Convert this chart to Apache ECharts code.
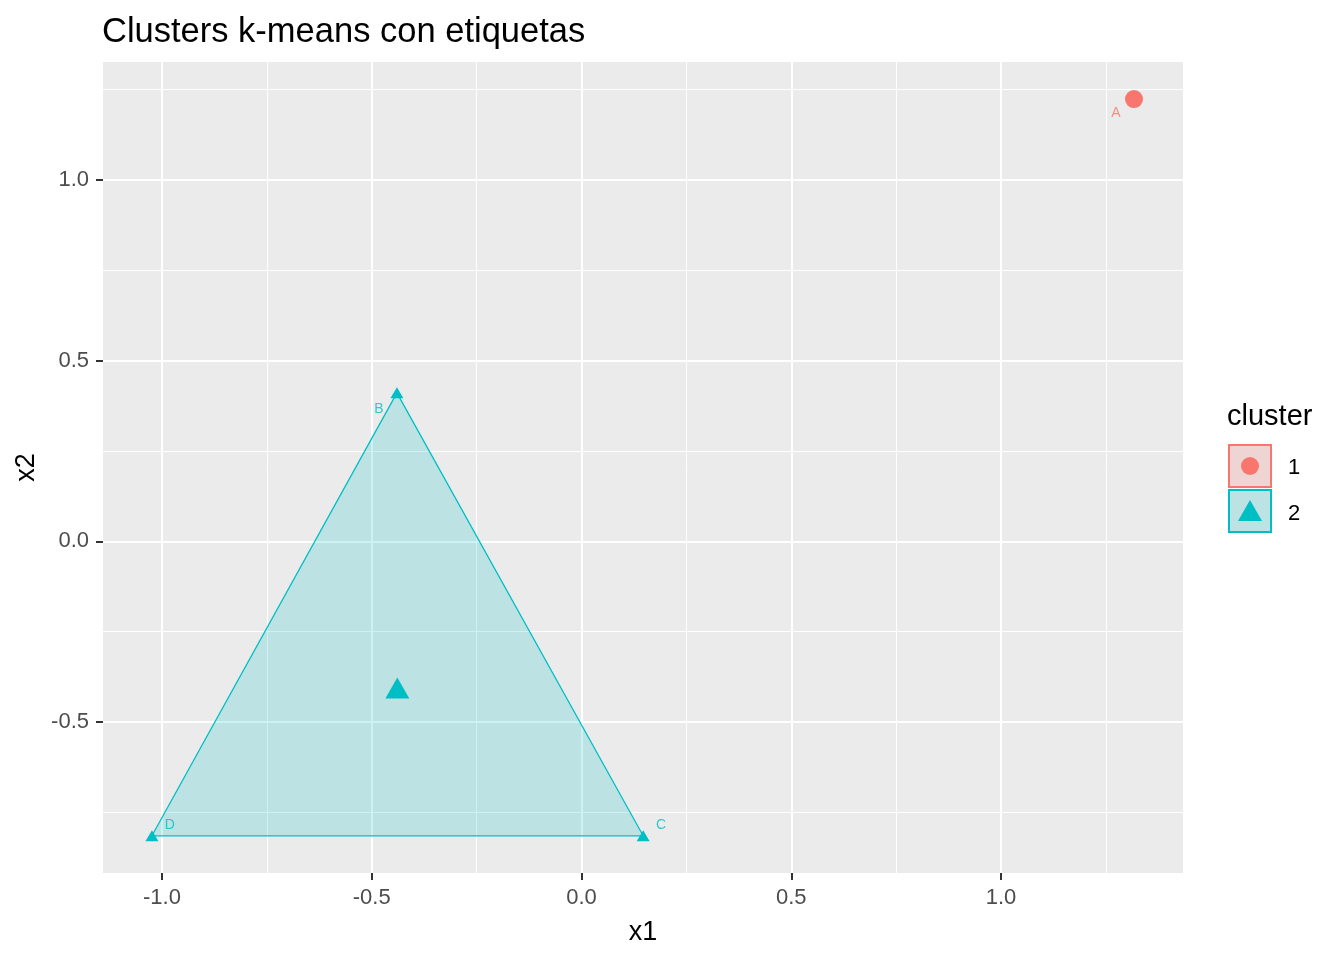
<!DOCTYPE html>
<html>
<head>
<meta charset="utf-8">
<script src="https://cdn.jsdelivr.net/npm/echarts@6/dist/echarts.min.js"></script>
<style>html,body{margin:0;padding:0;background:#fff}#c{width:1344px;height:960px}</style>
</head>
<body>
<div id="c"></div>
<script>
// ---- data ----
const pointNames = ['A', 'B', 'C', 'D'];
const pointX1 = [1.317, -0.440, 0.147, -1.024];
const pointX2 = [1.224, 0.411, -0.815, -0.815];
const pointCluster = [1, 2, 2, 2];
const centerX1 = [1.317, -0.439];
const centerX2 = [1.224, -0.406];
const clusterNames = ['1', '2'];
const hullC2 = ['B', 'C', 'D'];
const xMajorTicks = [-1.0, -0.5, 0.0, 0.5, 1.0];
const xMinorTicks = [-0.75, -0.25, 0.25, 0.75, 1.25];
const yMajorTicks = [-0.5, 0.0, 0.5, 1.0];
const yMinorTicks = [-0.75, -0.25, 0.25, 0.75, 1.25];

// ---- style ----
const COLORS = ['#F8766D', '#00BFC4'];
const FILLS = ['rgba(248,118,109,0.2)', 'rgba(0,191,196,0.2)'];
const FONT = 'Liberation Sans, Arial, sans-serif';
const X_MIN = -1.1406, X_MAX = 1.4338, Y_MIN = -0.918, Y_MAX = 1.3266;
const labelOffsets = { A: [-18, 14], B: [-18, 16], C: [18, -11], D: [18, -11] };

const chart = echarts.init(document.getElementById('c'), null, { renderer: 'canvas' });

function pts(cl) {
  const out = [];
  pointNames.forEach((n, i) => { if (pointCluster[i] === cl) out.push({ name: n, value: [pointX1[i], pointX2[i]] }); });
  return out;
}
const hullData = hullC2.map(n => { const i = pointNames.indexOf(n); return [pointX1[i], pointX2[i]]; });

function axisBase(isX, major, show) {
  return {
    type: 'value', min: isX ? X_MIN : Y_MIN, max: isX ? X_MAX : Y_MAX,
    axisLine: { show: false, onZero: false },
    axisTick: { show: show, customValues: major, length: 7, lineStyle: { color: '#333333', width: 2 } },
    axisLabel: show ? { customValues: major, color: '#4D4D4D', fontSize: 22, fontFamily: FONT, margin: isX ? 14 : 14,
      formatter: v => v.toFixed(1) } : { show: false },
    splitLine: { show: true, lineStyle: { color: '#FFFFFF', width: show ? 2 : 1 } },
    minorSplitLine: { show: false }
  };
}

const xMain = Object.assign(axisBase(true, xMajorTicks, true), {
  name: 'x1', nameLocation: 'middle', nameGap: 46,
  nameTextStyle: { fontSize: 27, fontFamily: FONT, color: '#000' }, position: 'bottom'
});
const xMinor = Object.assign(axisBase(true, xMinorTicks, false), { position: 'bottom' });
const yMain = Object.assign(axisBase(false, yMajorTicks, true), {
  name: 'x2', nameLocation: 'middle', nameGap: 60, nameRotate: 90,
  nameTextStyle: { fontSize: 27, fontFamily: FONT, color: '#000' }, position: 'left'
});
const yMinor = Object.assign(axisBase(false, yMinorTicks, false), { position: 'left' });

const labelSeries = {
  type: 'scatter', xAxisIndex: 0, yAxisIndex: 0, symbolSize: 0, silent: true, z: 5,
  data: pointNames.map((n, i) => ({
    name: n, value: [pointX1[i], pointX2[i]],
    label: { show: true, formatter: n, position: 'inside', offset: labelOffsets[n],
      color: COLORS[pointCluster[i] - 1], fontSize: 14, fontFamily: FONT }
  }))
};

const option = {
  backgroundColor: '#FFFFFF',
  animation: false,
  title: {
    text: 'Clusters k-means con etiquetas', left: 97, top: 10,
    textStyle: { fontSize: 34.5, fontWeight: 'normal', fontFamily: FONT, color: '#000000' }
  },
  grid: { left: 103, top: 62, width: 1080, height: 811, backgroundColor: '#EBEBEB', show: true, borderWidth: 0 },
  xAxis: [xMain, xMinor],
  yAxis: [yMain, yMinor],
  series: [
    {
      type: 'custom', xAxisIndex: 0, yAxisIndex: 0, data: hullData, z: 2, silent: true,
      renderItem: (params, api) => {
        if (params.dataIndex !== 0) return null;
        const p = hullData.map(d => api.coord(d));
        return { type: 'polygon', shape: { points: p },
          style: { fill: FILLS[1], stroke: COLORS[1], lineWidth: 1.3 } };
      }
    },
    { type: 'scatter', xAxisIndex: 0, yAxisIndex: 0, data: pts(1), symbol: 'circle', symbolSize: 11,
      itemStyle: { color: COLORS[0], opacity: 1 }, z: 3 },
    { type: 'scatter', xAxisIndex: 0, yAxisIndex: 0, data: pts(2), symbol: 'triangle', symbolSize: [13, 11],
      itemStyle: { color: COLORS[1], opacity: 1 }, z: 3 },
    { type: 'scatter', xAxisIndex: 0, yAxisIndex: 0, data: [[centerX1[0], centerX2[0]]], symbol: 'circle', symbolSize: 18,
      itemStyle: { color: COLORS[0], opacity: 1 }, z: 4 },
    { type: 'scatter', xAxisIndex: 0, yAxisIndex: 0, data: [[centerX1[1], centerX2[1]]], symbol: 'triangle', symbolSize: [24, 21],
      itemStyle: { color: COLORS[1], opacity: 1 }, z: 4 },
    labelSeries
  ],
  graphic: [
    { type: 'text', left: 1227, top: 402, style: { text: 'cluster', fontSize: 29, fontFamily: FONT, fill: '#000' } },
    { type: 'rect', shape: { x: 1229, y: 445, width: 42, height: 42 }, style: { fill: '#EBEBEB', stroke: null } },
    { type: 'rect', shape: { x: 1229, y: 445, width: 42, height: 42 }, style: { fill: FILLS[0], stroke: COLORS[0], lineWidth: 2 } },
    { type: 'circle', shape: { cx: 1250, cy: 466, r: 9 }, style: { fill: COLORS[0] } },
    { type: 'text', left: 1288, top: 457, style: { text: clusterNames[0], fontSize: 22, fontFamily: FONT, fill: '#000' } },
    { type: 'rect', shape: { x: 1229, y: 490, width: 42, height: 42 }, style: { fill: '#EBEBEB', stroke: null } },
    { type: 'rect', shape: { x: 1229, y: 490, width: 42, height: 42 }, style: { fill: FILLS[1], stroke: COLORS[1], lineWidth: 2 } },
    { type: 'polygon', shape: { points: [[1250, 500], [1262, 521], [1238, 521]] }, style: { fill: COLORS[1] } },
    { type: 'text', left: 1288, top: 503, style: { text: clusterNames[1], fontSize: 22, fontFamily: FONT, fill: '#000' } }
  ]
};
chart.setOption(option);
</script>
</body>
</html>
